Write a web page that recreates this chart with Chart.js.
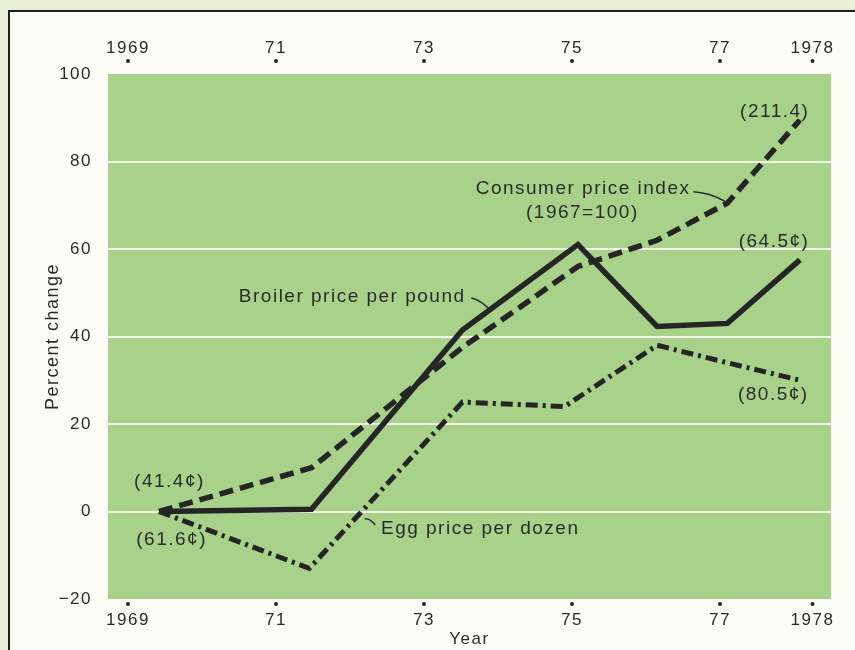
<!DOCTYPE html>
<html>
<head>
<meta charset="utf-8">
<script src="https://cdn.jsdelivr.net/npm/chart.js@4/dist/chart.umd.min.js"></script>
<style>
  body { margin: 0; background: #e9efd4; width: 855px; height: 650px; overflow: hidden; position: relative; }
  div.frame { position: absolute; left: 8px; top: 10px; width: 900px; height: 700px; border: 2px solid #1e1e1e; background: #fcfcf6; }
  canvas#graph { position: absolute; left: 0; top: 0; }
</style>
</head>
<body>
<div class="frame"></div>
<canvas id="graph" width="855" height="650"></canvas>
<script>
// years (drawn positions) and percent change since 1969
const broilerYears = [1969.42, 1971.48, 1973.52, 1975.08, 1976.15, 1977.1, 1978.08];
const broilerPct   = [0, 0.5, 41.5, 61, 42.3, 43, 57.5];
const cpiYears     = [1969.42, 1971.48, 1973.52, 1975.08, 1976.15, 1977.1, 1978.08];
const cpiPct       = [0, 10, 37.5, 56, 62, 70.5, 89.5];
const eggYears     = [1969.42, 1971.45, 1973.52, 1974.9, 1976.15, 1977.1, 1978.08];
const eggPct       = [0, -13, 25, 24, 38, 34, 30];

const tickYears  = [1969, 1971, 1973, 1975, 1977, 1978.25];
const tickLabels = ["1969", "71", "73", "75", "77", "1978"];
const yTicks     = [-20, 0, 20, 40, 60, 80, 100];

// labels written on the chart
const noteText  = ["(41.4¢)", "(61.6¢)", "(211.4)", "(64.5¢)", "(80.5¢)", "Consumer price index", "(1967=100)", "Broiler price per pound", "Egg price per dozen"];
const noteYear  = [1969.56, 1969.59, 1977.74, 1977.73, 1977.72, 1975.15, 1975.14, 1972.03, 1973.76];
const noteValue = [6.7, -6.5, 91.3, 61.6, 26.6, 73.7, 68.2, 49, -4.0];
// leader lines [fromYear, fromValue, toYear, toValue]
const leaders = [
    [1976.64, 73.1, 1977.07, 70.9],
    [1973.64, 48.8, 1973.89, 46.1],
    [1972.2, -1.7, 1972.34, -3.1]
];

const ink = "#252525";
const fontFamily = "'Liberation Sans', Arial, sans-serif";
const toPoints = (xs, ys) => xs.map((x, i) => ({x: x, y: ys[i]}));

const decorate = {
    id: "decorate",
    beforeDraw(chart) {
        const {ctx, chartArea: a} = chart;
        ctx.letterSpacing = "1.5px";
        ctx.save();
        ctx.fillStyle = "#a8d28a";
        ctx.fillRect(a.left, a.top, a.right - a.left, a.bottom - a.top);
        ctx.restore();
    },
    afterDatasetsDraw(chart) {
        const {ctx, chartArea: a} = chart;
        const x = chart.scales.x, y = chart.scales.y;
        ctx.save();
        // tick dots
        ctx.fillStyle = ink;
        tickYears.forEach(v => {
            const px = x.getPixelForValue(v);
            ctx.beginPath(); ctx.arc(px, a.top - 13, 2, 0, Math.PI * 2); ctx.fill();
            ctx.beginPath(); ctx.arc(px, a.bottom + 5, 2, 0, Math.PI * 2); ctx.fill();
        });
        // notes
        ctx.font = "19px " + fontFamily;
        ctx.letterSpacing = "1.5px";
        ctx.textAlign = "center";
        ctx.textBaseline = "middle";
        ctx.fillStyle = "#2a2a2a";
        noteText.forEach((t, i) => ctx.fillText(t, x.getPixelForValue(noteYear[i]), y.getPixelForValue(noteValue[i])));
        // leaders
        ctx.strokeStyle = "#2a2a2a";
        ctx.lineWidth = 1.5;
        leaders.forEach(([x0, y0, x1, y1]) => {
            const ax = x.getPixelForValue(x0), ay = y.getPixelForValue(y0);
            const bx = x.getPixelForValue(x1), by = y.getPixelForValue(y1);
            ctx.beginPath();
            ctx.moveTo(ax, ay);
            ctx.quadraticCurveTo((ax + bx) / 2, (ay + by) / 2 - 4, bx, by);
            ctx.stroke();
        });
        ctx.restore();
    }
};

const xCommon = {
    type: "linear",
    min: 1968.73,
    max: 1978.5,
    grid: { display: false },
    border: { display: false },
    afterBuildTicks: s => { s.ticks = tickYears.map(v => ({value: v})); },
    ticks: {
        autoSkip: false,
        maxRotation: 0,
        color: "#2a2a2a",
        font: { size: 17, family: fontFamily },
        callback: (v, i) => tickLabels[i]
    }
};

new Chart("graph", {
    type: "line",
    data: {
        datasets: [{
            data: toPoints(broilerYears, broilerPct),
            borderColor: ink,
            borderWidth: 5.5,
            pointRadius: 0,
            fill: false
        }, {
            data: toPoints(cpiYears, cpiPct),
            borderColor: ink,
            borderWidth: 5.5,
            borderDash: [14, 7],
            pointRadius: 0,
            fill: false
        }, {
            data: toPoints(eggYears, eggPct),
            borderColor: ink,
            borderWidth: 5,
            borderDash: [12, 5, 3, 5],
            pointRadius: 0,
            fill: false
        }]
    },
    options: {
        responsive: false,
        animation: false,
        layout: { padding: { left: 0, right: 24, top: 0, bottom: 0 } },
        scales: {
            x: Object.assign({}, xCommon, {
                position: "bottom",
                afterFit: s => { s.paddingLeft = 0; s.paddingRight = 0; s.height = 51; },
                ticks: Object.assign({}, xCommon.ticks, { padding: 3 }),
                title: {
                    display: true,
                    text: "Year",
                    color: "#2a2a2a",
                    font: { size: 17, family: fontFamily },
                    padding: { top: 0, bottom: 0 }
                }
            }),
            x2: Object.assign({}, xCommon, {
                position: "top",
                afterFit: s => { s.paddingLeft = 0; s.paddingRight = 0; s.height = 74; },
                ticks: Object.assign({}, xCommon.ticks, { padding: 7 })
            }),
            y: {
                min: -20,
                max: 100,
                afterBuildTicks: s => { s.ticks = yTicks.map(v => ({value: v})); },
                afterFit: s => { s.width = 108; },
                border: { display: false },
                grid: {
                    drawTicks: false,
                    lineWidth: 2,
                    color: c => (c.tick && c.tick.value > -20 && c.tick.value < 100) ? "#f3f7ea" : "rgba(0,0,0,0)"
                },
                ticks: {
                    padding: 16,
                    color: "#2a2a2a",
                    font: { size: 17, family: fontFamily },
                    callback: v => v < 0 ? "\u2212" + Math.abs(v) : String(v)
                },
                title: {
                    display: true,
                    text: "Percent change",
                    color: "#2a2a2a",
                    font: { size: 18, family: fontFamily },
                    padding: { top: 42, bottom: 0 }
                }
            }
        },
        plugins: {
            legend: { display: false },
            tooltip: { enabled: false }
        }
    },
    plugins: [decorate]
});
</script>
</body>
</html>
